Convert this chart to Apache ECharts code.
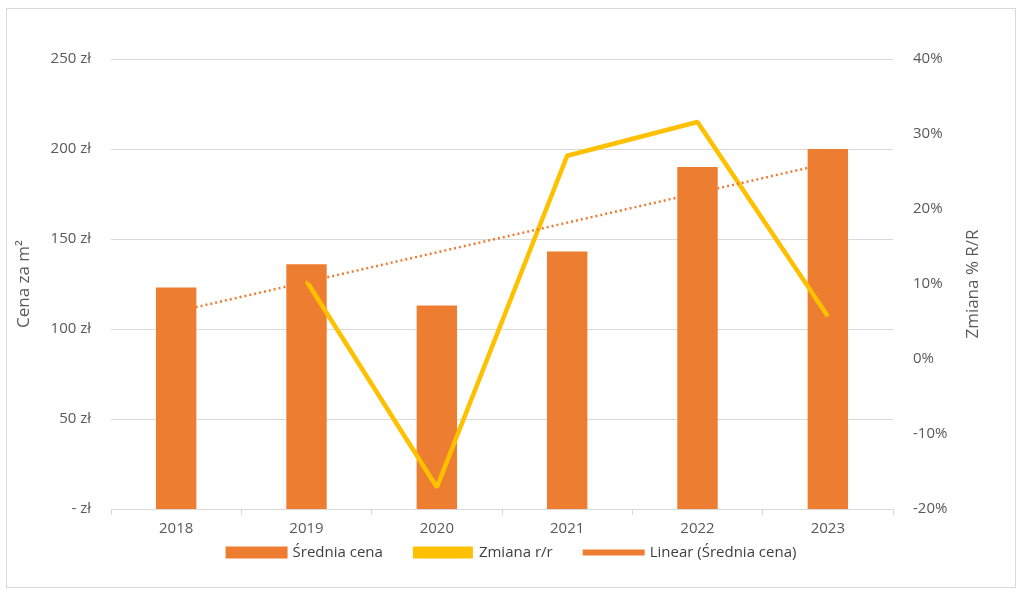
<!DOCTYPE html>
<html>
<head>
<meta charset="utf-8">
<title>Cena za m2</title>
<script src="https://cdn.jsdelivr.net/npm/echarts@6/dist/echarts.min.js"></script>
<style>
html,body{margin:0;padding:0;background:#fff;}
#main{position:absolute;left:6px;top:8px;width:1010px;height:580px;border:1px solid #d9d9d9;box-sizing:border-box;}
</style>
</head>
<body>
<div id="main"></div>
<script>
var years = ['2018', '2019', '2020', '2021', '2022', '2023'];
var avgPrice = [123, 136, 113, 143, 190, 200];
var yoyChange = [null, 10.4, -17.1, 27.1, 31.6, 5.7];

// linear trend of average price (least squares, like Excel's "Linear")
function linearTrend(vals) {
    var n = vals.length, sx = 0, sy = 0, sxy = 0, sxx = 0;
    vals.forEach(function (v, i) { sx += i; sy += v; sxy += i * v; sxx += i * i; });
    var b = (n * sxy - sx * sy) / (n * sxx - sx * sx);
    var a = (sy - b * sx) / n;
    return vals.map(function (v, i) { return +(a + b * i).toFixed(2); });
}
var trend = linearTrend(avgPrice);

var font = 'Open Sans';
var myChart = echarts.init(document.getElementById('main'));
var option = {
    animation: false,
    textStyle: { fontFamily: font },
    grid: { left: 104, right: 122, top: 50, bottom: 78 },
    legend: {
        bottom: 22, itemGap: 30, itemWidth: 62, itemHeight: 12,
        textStyle: { fontSize: 15, color: '#404040', fontFamily: font },
        data: [
            { name: 'Średnia cena', icon: 'rect' },
            { name: 'Zmiana r/r', icon: 'path://M0,5 L10,5 L10,7 L0,7 Z' },
            { name: 'Linear (Średnia cena)', icon: 'path://M0,5 L10,5 L10,6 L0,6 Z' }
        ]
    },
    xAxis: {
        type: 'category', data: years,
        axisLine: { lineStyle: { color: '#d9d9d9' } },
        axisTick: { show: true, length: 6, lineStyle: { color: '#d9d9d9' } },
        axisLabel: { fontSize: 15, color: '#595959', margin: 12 }
    },
    yAxis: [{
        type: 'value', min: 0, max: 250, interval: 50,
        name: 'Cena za m²', nameLocation: 'middle', nameGap: 78, nameRotate: 90,
        nameTextStyle: { fontSize: 17, color: '#595959' },
        axisLabel: { fontSize: 15, color: '#595959', margin: 20,
            formatter: function (v) { return v === 0 ? '- zł' : v + ' zł'; } },
        splitLine: { lineStyle: { color: '#d9d9d9' } }
    }, {
        type: 'value', min: -20, max: 40, interval: 10,
        name: 'Zmiana % R/R', nameLocation: 'middle', nameGap: 72, nameRotate: 90,
        nameTextStyle: { fontSize: 17, color: '#595959' },
        axisLabel: { fontSize: 15, color: '#595959', margin: 20, formatter: '{value}%' },
        splitLine: { show: false }
    }],
    series: [{
        name: 'Średnia cena', type: 'bar', data: avgPrice, barWidth: '31%',
        itemStyle: { color: '#ed7d31' }
    }, {
        name: 'Zmiana r/r', type: 'line', yAxisIndex: 1, data: yoyChange,
        symbol: 'none', lineStyle: { color: '#ffc000', width: 4.5 },
        itemStyle: { color: '#ffc000' }
    }, {
        name: 'Linear (Średnia cena)', type: 'line', data: trend,
        symbol: 'none', lineStyle: { color: '#ed7d31', width: 2.5, type: [2, 3] },
        itemStyle: { color: '#ed7d31' }
    }]
};
myChart.setOption(option);
window.onresize = myChart.resize;
</script>
</body>
</html>
